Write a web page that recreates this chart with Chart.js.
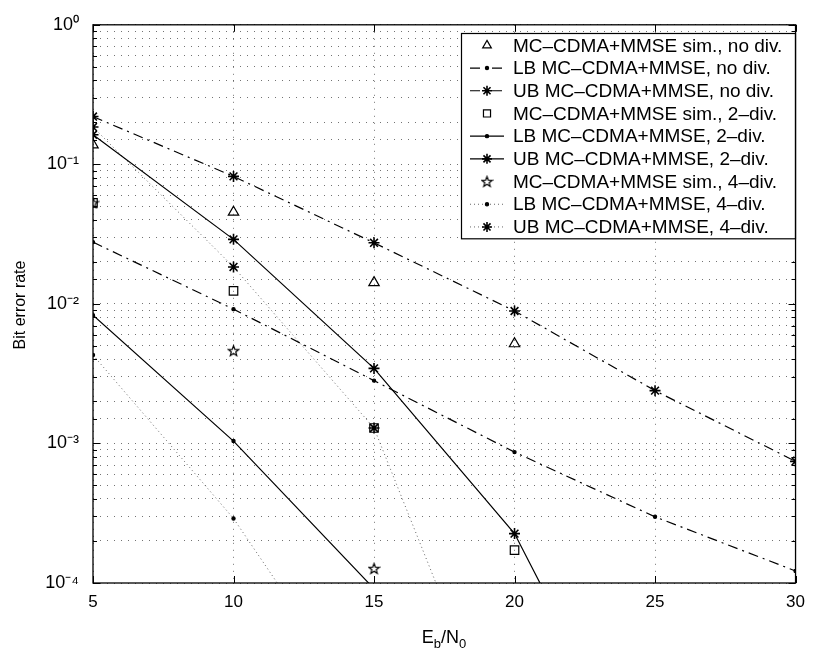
<!DOCTYPE html>
<html>
<head>
<meta charset="utf-8">
<script src="https://cdn.jsdelivr.net/npm/chart.js@4/dist/chart.umd.min.js"></script>
<style>
    html, body { margin: 0; padding: 0; background: #fff; }
    #wrap { width: 814px; height: 653px; }
</style>
</head>
<body>
<div id="wrap"><canvas id="graficoBer"></canvas></div>
<script>
// Eb/N0 (dB)
const ebno = [5, 10, 15, 20, 25, 30];

// sem diversidade
const simNoDiv = [0.138, 0.0454, 0.0142, 0.00518];
const lbNoDiv = [0.0277, 0.00917, 0.00282, 0.000867, 0.000298, 0.000122];
const ubNoDiv = [0.22, 0.082, 0.0274, 0.0089, 0.00239, 0.000744];

// diversidade 2
const sim2Div = [0.053, 0.0124, 0.00129, 0.000172];
const lb2Div = [0.0083, 0.00104, 0.000091];
const ub2Div = [0.163, 0.029, 0.00345, 0.000226, 0.0000025];

// diversidade 4
const sim4Div = [0.053, 0.00462, 0.000127];
const lb4Div = [0.0043, 0.00029, 0.0000095];
const ub4Div = [0.185, 0.0184, 0.00129, 0.0000039];

const yTicks = [1e-4, 1e-3, 1e-2, 1e-1, 1];
const yTickLabels = ['10\u207B\u2074', '10\u207B\u00B3', '10\u207B\u00B2', '10\u207B\u00B9', '10\u2070'];
const xTicks = [5, 10, 15, 20, 25, 30];

const FONT = '"Liberation Sans", Arial, Helvetica, sans-serif';

// pentagrama (marcador 'p' do matlab)
function pentagram(size) {
    const c = document.createElement('canvas');
    c.width = size; c.height = size;
    const g = c.getContext('2d');
    const cx = size / 2, cy = size / 2 + 0.5, R = size / 2 - 1, r = R * 0.42;
    g.beginPath();
    for (let i = 0; i < 10; i++) {
        const a = -Math.PI / 2 + i * Math.PI / 5;
        const rr = i % 2 ? r : R;
        g.lineTo(cx + rr * Math.cos(a), cy + rr * Math.sin(a));
    }
    g.closePath();
    g.lineWidth = 1.2;
    g.strokeStyle = '#000';
    g.stroke();
    return c;
}
const starImg = pentagram(13);

const dashDot = [10, 5, 2, 5];
const dotted = [1, 3];

function serie(label, values, opts) {
    return Object.assign({
        label: label,
        data: values.map((v, i) => ({ x: ebno[i], y: v })),
        borderColor: '#000',
        backgroundColor: '#000',
        pointBorderColor: '#000',
        pointBackgroundColor: '#000',
        borderWidth: 1.2,
        pointBorderWidth: 1.2,
        pointRadius: 2,
        pointStyle: 'circle',
        borderDash: [],
        showLine: true,
        tension: 0,
        fill: false
    }, opts);
}

const datasets = [
    serie('MC\u2013CDMA+MMSE sim., no div.', simNoDiv, { showLine: false, pointStyle: 'triangle', pointRadius: 6, pointBackgroundColor: 'rgba(0,0,0,0)' }),
    serie('LB MC\u2013CDMA+MMSE, no div.', lbNoDiv, { borderDash: dashDot, pointRadius: 1.6 }),
    serie('UB MC\u2013CDMA+MMSE, no div.', ubNoDiv, { borderDash: dashDot, pointStyle: 'star', pointRadius: 5.5, pointBorderWidth: 1.6 }),
    serie('MC\u2013CDMA+MMSE sim., 2\u2013div.', sim2Div, { showLine: false, pointStyle: 'rect', pointRadius: 6, pointBackgroundColor: 'rgba(0,0,0,0)' }),
    serie('LB MC\u2013CDMA+MMSE, 2\u2013div.', lb2Div, { pointRadius: 1.6 }),
    serie('UB MC\u2013CDMA+MMSE, 2\u2013div.', ub2Div, { pointStyle: 'star', pointRadius: 5.5, pointBorderWidth: 1.6 }),
    serie('MC\u2013CDMA+MMSE sim., 4\u2013div.', sim4Div, { showLine: false, pointStyle: starImg, pointRadius: 6 }),
    serie('LB MC\u2013CDMA+MMSE, 4\u2013div.', lb4Div, { borderDash: dotted, borderColor: '#666', borderWidth: 1, pointRadius: 1.6 }),
    serie('UB MC\u2013CDMA+MMSE, 4\u2013div.', ub4Div, { borderDash: dotted, borderColor: '#666', borderWidth: 1, pointStyle: 'star', pointRadius: 5.5, pointBorderWidth: 1.6 })
];

// moldura, marcas internas, legenda e titulos dos eixos
const estiloMatlab = {
    id: 'estiloMatlab',
    afterDraw(chart) {
        const ctx = chart.ctx;
        const a = chart.chartArea;
        const xs = chart.scales.x, ys = chart.scales.y;
        ctx.save();

        // marcas
        ctx.strokeStyle = '#000';
        ctx.lineWidth = 1;
        ctx.setLineDash([]);
        ctx.beginPath();
        ys.ticks.forEach(t => {
            const y = Math.round(ys.getPixelForValue(t.value)) + 0.5;
            const len = yTicks.some(v => Math.abs(Math.log10(v) - Math.log10(t.value)) < 1e-6) ? 7 : 4;
            ctx.moveTo(a.left, y); ctx.lineTo(a.left + len, y);
            ctx.moveTo(a.right, y); ctx.lineTo(a.right - len, y);
        });
        xTicks.forEach(v => {
            const x = Math.round(xs.getPixelForValue(v)) + 0.5;
            ctx.moveTo(x, a.bottom); ctx.lineTo(x, a.bottom - 7);
            ctx.moveTo(x, a.top); ctx.lineTo(x, a.top + 7);
        });
        ctx.stroke();

        // legenda
        const lx = 461, ly = 33, lw = 334, rowH = 22.7;
        const lh = rowH * datasets.length + 1;
        ctx.fillStyle = '#fff';
        ctx.fillRect(lx, ly, lw, lh);
        ctx.lineWidth = 1.2;
        ctx.strokeRect(lx + 0.5, ly + 0.5, lw, lh);
        ctx.font = '19px ' + FONT;
        ctx.textBaseline = 'middle';
        ctx.textAlign = 'left';
        chart.data.datasets.forEach((ds, i) => {
            const cy = ly + rowH * (i + 0.5) + 1;
            if (ds.showLine !== false) {
                ctx.strokeStyle = ds.borderColor;
                ctx.lineWidth = ds.borderWidth;
                ctx.setLineDash(ds.borderDash || []);
                ctx.beginPath();
                ctx.moveTo(lx + 9, cy); ctx.lineTo(lx + 43, cy);
                ctx.stroke();
            }
            ctx.setLineDash([]);
            ctx.strokeStyle = ds.pointBorderColor;
            ctx.fillStyle = ds.pointBackgroundColor;
            ctx.lineWidth = ds.pointBorderWidth;
            Chart.helpers.drawPoint(ctx, {
                pointStyle: ds.pointStyle,
                radius: ds.pointStyle === 'circle' ? ds.pointRadius : Math.min(ds.pointRadius, 5),
                rotation: 0,
                borderWidth: ds.pointBorderWidth
            }, lx + 26, cy);
            ctx.fillStyle = '#000';
            ctx.fillText(ds.label, lx + 52, cy + 1);
        });

        // caixa do grafico
        ctx.strokeStyle = '#000';
        ctx.lineWidth = 1.3;
        ctx.strokeRect(a.left, a.top, a.right - a.left, a.bottom - a.top);

        // titulo y
        ctx.fillStyle = '#000';
        ctx.font = '16px ' + FONT;
        ctx.save();
        ctx.translate(21, 305);
        ctx.rotate(-Math.PI / 2);
        ctx.textAlign = 'center';
        ctx.textBaseline = 'middle';
        ctx.fillText('Bit error rate', 0, 0);
        ctx.restore();

        // titulo x: E_b/N_0
        ctx.textBaseline = 'alphabetic';
        ctx.textAlign = 'left';
        const big = '18px ' + FONT, small = '13px ' + FONT;
        const parts = [['E', big, 0], ['b', small, 5], ['/N', big, 0], ['0', small, 5]];
        let total = 0;
        parts.forEach(p => { ctx.font = p[1]; total += ctx.measureText(p[0]).width; });
        let x = 444 - total / 2;
        parts.forEach(p => {
            ctx.font = p[1];
            ctx.fillText(p[0], x, 643 + p[2]);
            x += ctx.measureText(p[0]).width;
        });
        ctx.restore();
    }
};

window.onload = function() {
    const ctx = document.getElementById('graficoBer').getContext('2d');
    new Chart(ctx, {
        type: 'line',
        data: { datasets: datasets },
        options: {
            responsive: true,
            maintainAspectRatio: false,
            animation: false,
            layout: { padding: { left: 0, top: 23, right: 12, bottom: 0 } },
            scales: {
                x: {
                    type: 'linear',
                    min: 5,
                    max: 30,
                    ticks: { stepSize: 5, color: '#000', padding: 9, font: { family: FONT, size: 17 } },
                    grid: { color: 'rgba(0,0,0,0.55)', lineWidth: 1, drawTicks: false },
                    border: { display: false, dash: [1, 6] },
                    afterFit: (s) => { s.height = 70; }
                },
                y: {
                    type: 'logarithmic',
                    min: 1e-4,
                    max: 1,
                    ticks: {
                        autoSkip: false,
                        color: '#000',
                        padding: 14,
                        font: { family: FONT, size: 18 },
                        callback: function(value) {
                            const i = yTicks.findIndex(t => Math.abs(Math.log10(t) - Math.log10(value)) < 1e-6);
                            return i >= 0 ? yTickLabels[i] : '';
                        }
                    },
                    grid: { color: 'rgba(0,0,0,0.55)', lineWidth: 1, drawTicks: false },
                    border: { display: false, dash: [1, 6] },
                    afterFit: (s) => { s.width = 93; }
                }
            },
            plugins: {
                legend: { display: false },
                tooltip: { enabled: false }
            }
        },
        plugins: [estiloMatlab]
    });
};
</script>
</body>
</html>
